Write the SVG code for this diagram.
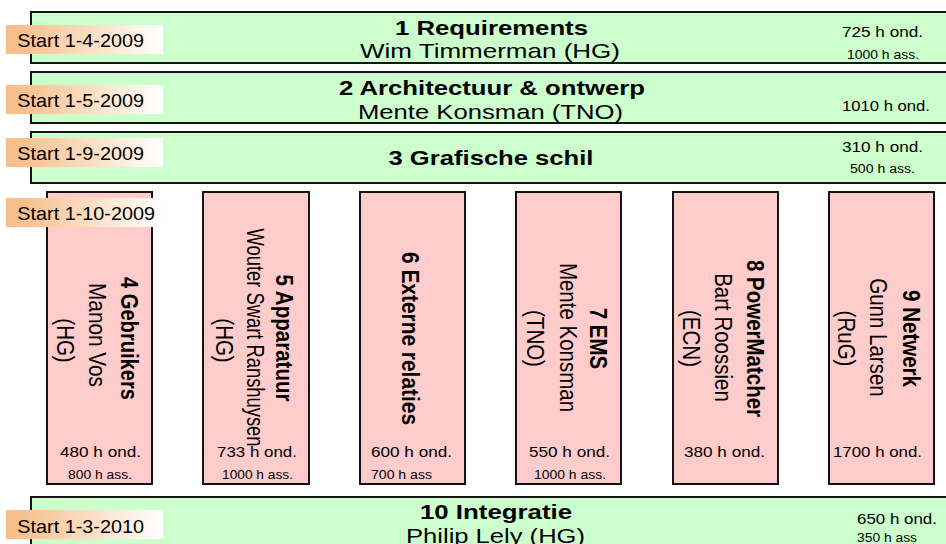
<svg xmlns="http://www.w3.org/2000/svg" width="946" height="544" viewBox="0 0 946 544">
  <defs>
    <linearGradient id="startFill" x1="0" y1="0" x2="1" y2="0">
      <stop offset="0" stop-color="#F8BE88"/>
      <stop offset="0.1" stop-color="#F8C08C"/>
      <stop offset="1" stop-color="#FFFFFF"/>
    </linearGradient>
  </defs>
  <style>
    text { font-family: "Liberation Sans", Arial, sans-serif; fill: #000; }
    .phase { fill: #CCFFCC; stroke: #141414; stroke-width: 2; }
    .task { fill: #FFCCCC; stroke: #141414; stroke-width: 2; }
    .start { fill: url(#startFill); }
    .st { font-size: 18.5px; }
    .ttl { font-size: 21px; font-weight: bold; text-anchor: middle; }
    .who { font-size: 21px; text-anchor: middle; }
    .hrs { font-size: 14.5px; }
    .ass { font-size: 12px; }
    .v { font-size: 20.5px; text-anchor: middle; }
    .vb { font-size: 20.5px; font-weight: bold; text-anchor: middle; }
  </style>

  <rect width="946" height="544" fill="#FFFFFF"/>

  <!-- horizontal work packages -->
  <g id="wp1">
    <rect class="phase" x="31" y="12" width="930" height="51"/>
    <text class="ttl" x="491.5" y="34.5" textLength="193" lengthAdjust="spacingAndGlyphs">1 Requirements</text>
    <text class="who" x="490" y="58" textLength="260" lengthAdjust="spacingAndGlyphs">Wim Timmerman (HG)</text>
    <text class="hrs" x="842" y="36.5" textLength="81" lengthAdjust="spacingAndGlyphs">725 h ond.</text>
    <text class="ass" x="847" y="59" textLength="72" lengthAdjust="spacingAndGlyphs">1000 h ass.</text>
  </g>

  <g id="wp2">
    <rect class="phase" x="31" y="72" width="930" height="51"/>
    <text class="ttl" x="492" y="94.5" textLength="306" lengthAdjust="spacingAndGlyphs">2 Architectuur &amp; ontwerp</text>
    <text class="who" x="490.5" y="118.5" textLength="265" lengthAdjust="spacingAndGlyphs">Mente Konsman (TNO)</text>
    <text class="hrs" x="842" y="111" textLength="88" lengthAdjust="spacingAndGlyphs">1010 h ond.</text>
  </g>

  <g id="wp3">
    <rect class="phase" x="31" y="132" width="930" height="51"/>
    <text class="ttl" x="491" y="165" textLength="205" lengthAdjust="spacingAndGlyphs">3 Grafische schil</text>
    <text class="hrs" x="842" y="151.5" textLength="81" lengthAdjust="spacingAndGlyphs">310 h ond.</text>
    <text class="ass" x="850" y="172.5" textLength="65" lengthAdjust="spacingAndGlyphs">500 h ass.</text>
  </g>

  <!-- vertical work packages -->
  <g id="wp4">
    <rect class="task" x="47" y="192" width="105" height="292"/>
    <text class="vb" transform="translate(121,338.5) rotate(90) scale(1,1.15)" textLength="123" lengthAdjust="spacingAndGlyphs">4 Gebruikers</text>
    <text class="v" transform="translate(89,335) rotate(90) scale(1,1.15)" textLength="104" lengthAdjust="spacingAndGlyphs">Manon Vos</text>
    <text class="v" transform="translate(57,340.5) rotate(90) scale(1,1.15)">(HG)</text>
    <text class="hrs" x="60" y="457" textLength="81" lengthAdjust="spacingAndGlyphs">480 h ond.</text>
    <text class="ass" x="68" y="479" textLength="64" lengthAdjust="spacingAndGlyphs">800 h ass.</text>
  </g>

  <g id="wp5">
    <rect class="task" x="203" y="192" width="106" height="292"/>
    <text class="vb" transform="translate(276,338) rotate(90) scale(1,1.15)" textLength="127" lengthAdjust="spacingAndGlyphs">5 Apparatuur</text>
    <text class="v" transform="translate(247,337.5) rotate(90) scale(1,1.15)" textLength="218" lengthAdjust="spacingAndGlyphs">Wouter Swart Ranshuysen</text>
    <text class="v" transform="translate(216,340.5) rotate(90) scale(1,1.15)">(HG)</text>
    <text class="hrs" x="217" y="457" textLength="80" lengthAdjust="spacingAndGlyphs">733 h ond.</text>
    <text class="ass" x="222" y="479" textLength="71" lengthAdjust="spacingAndGlyphs">1000 h ass.</text>
  </g>

  <g id="wp6">
    <rect class="task" x="360" y="192" width="105" height="292"/>
    <text class="vb" transform="translate(402,338.5) rotate(90) scale(1,1.15)" textLength="173" lengthAdjust="spacingAndGlyphs">6 Externe relaties</text>
    <text class="hrs" x="371" y="457" textLength="81" lengthAdjust="spacingAndGlyphs">600 h ond.</text>
    <text class="ass" x="371" y="479" textLength="61" lengthAdjust="spacingAndGlyphs">700 h ass</text>
  </g>

  <g id="wp7">
    <rect class="task" x="516" y="192" width="105" height="292"/>
    <text class="vb" transform="translate(590,338.5) rotate(90) scale(1,1.15)">7 EMS</text>
    <text class="v" transform="translate(560,337.5) rotate(90) scale(1,1.15)">Mente Konsman</text>
    <text class="v" transform="translate(527,338.5) rotate(90) scale(1,1.15)">(TNO)</text>
    <text class="hrs" x="529" y="457" textLength="81" lengthAdjust="spacingAndGlyphs">550 h ond.</text>
    <text class="ass" x="534" y="479" textLength="72" lengthAdjust="spacingAndGlyphs">1000 h ass.</text>
  </g>

  <g id="wp8">
    <rect class="task" x="673" y="192" width="105" height="292"/>
    <text class="vb" transform="translate(747,338.5) rotate(90) scale(1,1.15)">8 PowerMatcher</text>
    <text class="v" transform="translate(715,337.5) rotate(90) scale(1,1.15)">Bart Roossien</text>
    <text class="v" transform="translate(683,338.5) rotate(90) scale(1,1.15)">(ECN)</text>
    <text class="hrs" x="684" y="457" textLength="81" lengthAdjust="spacingAndGlyphs">380 h ond.</text>
  </g>

  <g id="wp9">
    <rect class="task" x="829" y="192" width="105" height="292"/>
    <text class="vb" transform="translate(903,338.5) rotate(90) scale(1,1.15)">9 Netwerk</text>
    <text class="v" transform="translate(870,337.5) rotate(90) scale(1,1.15)">Gunn Larsen</text>
    <text class="v" transform="translate(838,338.5) rotate(90) scale(1,1.15)">(RuG)</text>
    <text class="hrs" x="833" y="457" textLength="89" lengthAdjust="spacingAndGlyphs">1700 h ond.</text>
  </g>

  <g id="wp10">
    <rect class="phase" x="31" y="497" width="930" height="60"/>
    <text class="ttl" x="496" y="519" textLength="152" lengthAdjust="spacingAndGlyphs">10 Integratie</text>
    <text class="who" x="495.5" y="542.5" textLength="179" lengthAdjust="spacingAndGlyphs">Philip Lely (HG)</text>
    <text class="hrs" x="857" y="524" textLength="80" lengthAdjust="spacingAndGlyphs">650 h ond.</text>
    <text class="ass" x="857" y="541.5" textLength="60" lengthAdjust="spacingAndGlyphs">350 h ass</text>
  </g>

  <!-- start date tags -->
  <g id="start1">
    <rect class="start" x="6" y="25" width="157" height="29"/>
    <text class="st" x="17.3" y="46.5" textLength="126.7" lengthAdjust="spacingAndGlyphs">Start 1-4-2009</text>
  </g>
  <g id="start2">
    <rect class="start" x="6" y="85" width="157" height="29"/>
    <text class="st" x="17.3" y="106.5" textLength="126.7" lengthAdjust="spacingAndGlyphs">Start 1-5-2009</text>
  </g>
  <g id="start3">
    <rect class="start" x="6" y="138" width="157" height="29"/>
    <text class="st" x="17.3" y="159.5" textLength="126.7" lengthAdjust="spacingAndGlyphs">Start 1-9-2009</text>
  </g>
  <g id="start4">
    <rect class="start" x="6" y="198" width="157" height="29"/>
    <text class="st" x="17.3" y="219.5" textLength="137.7" lengthAdjust="spacingAndGlyphs">Start 1-10-2009</text>
  </g>
  <g id="start10">
    <rect class="start" x="6" y="510" width="157" height="29"/>
    <text class="st" x="17.3" y="532.5" textLength="126.7" lengthAdjust="spacingAndGlyphs">Start 1-3-2010</text>
  </g>

  <g id="connectors"/>
</svg>
